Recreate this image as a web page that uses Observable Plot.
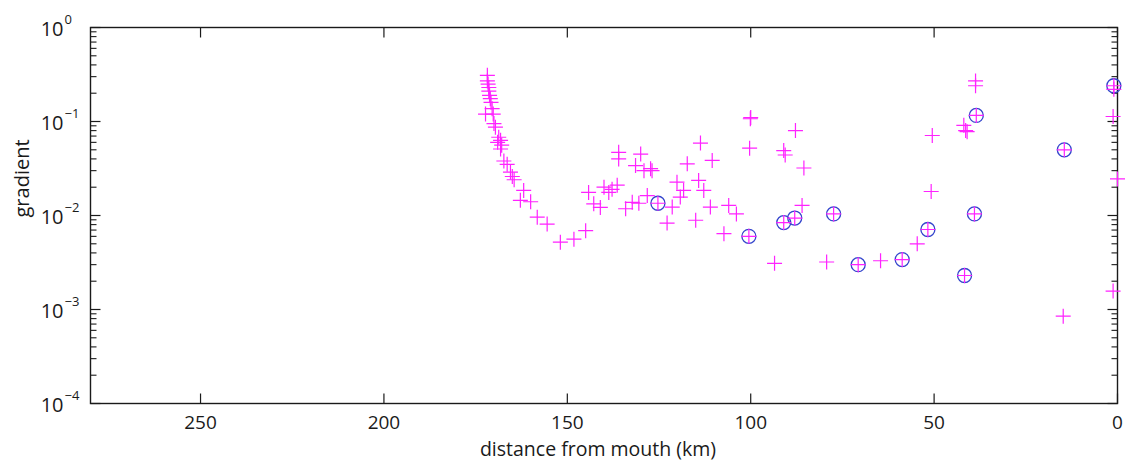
<!DOCTYPE html>
<html>
<head>
<meta charset="utf-8">
<script src="https://cdn.jsdelivr.net/npm/d3@7"></script>
<script src="https://cdn.jsdelivr.net/npm/@observablehq/plot@0.6"></script>
<style>
  html, body { margin: 0; padding: 0; background: #fff; }
  svg { display: block; }
</style>
</head>
<body>
<div id="chart"></div>
<script>
// ---- data (distance from mouth in km, gradient) ----
const crossKm = [
  171.8,171.8,171.6,171.4,171.4,171.2,171.0,170.8,170.5,172.3,170.2,170.0,169.6,168.7,168.2,169.0,167.9,168.2,
  167.3,166.4,165.5,165.0,164.5,161.9,162.8,160.0,158.2,155.5,151.9,148.2,145.0,
  144.2,142.8,141.0,140.0,138.7,137.8,136.4,136.0,136.0,131.4,130.0,134.1,132.3,130.5,129.1,127.3,126.9,128.2,
  122.8,121.4,120.1,119.2,118.3,117.3,115.0,114.2,113.7,112.8,111.0,110.5,107.3,106.0,103.9,
  100.1,100.0,100.3,93.5,91.0,90.6,87.8,86.0,85.5,79.3,64.6,54.6,50.8,50.5,
  41.9,41.4,41.0,38.7,38.7,14.8,1.2,0.0,1.2,1.0,
  125.3,100.5,91.0,88.0,77.4,70.7,58.7,51.7,41.7,38.5,39.0,14.5,1.0
];
const crossG = [
  0.31,0.27,0.25,0.23,0.21,0.19,0.175,0.16,0.137,0.12,0.12,0.095,0.087,0.068,0.063,0.060,0.056,0.051,
  0.038,0.035,0.029,0.026,0.024,0.0185,0.0145,0.014,0.0096,0.0081,0.0052,0.0056,0.0069,
  0.0176,0.0133,0.0122,0.020,0.0176,0.019,0.021,0.047,0.040,0.034,0.045,0.0118,0.0138,0.0135,0.030,0.0315,0.030,0.0163,
  0.0083,0.0123,0.0226,0.0157,0.0185,0.0355,0.0089,0.0236,0.059,0.0185,0.0123,0.0385,0.0064,0.0128,0.0104,
  0.107,0.110,0.052,0.0031,0.049,0.044,0.080,0.0128,0.032,0.0032,0.0033,0.0050,0.018,0.071,
  0.091,0.080,0.078,0.27,0.24,0.00085,0.113,0.0245,0.00157,0.22,
  0.0135,0.0060,0.0084,0.0094,0.0104,0.0030,0.0034,0.0071,0.0023,0.116,0.0104,0.050,0.24
];
const circleKm = [125.3,100.5,91.0,88.0,77.4,70.7,58.7,51.7,41.7,38.5,39.0,14.5,1.0];
const circleG  = [0.0135,0.0060,0.0084,0.0094,0.0104,0.0030,0.0034,0.0071,0.0023,0.116,0.0104,0.050,0.24];

// ---- axis ticks ----
const xTicks = [250, 200, 150, 100, 50, 0];
const xTickLabels = ["250", "200", "150", "100", "50", "0"];
const yTicks = [1, 0.1, 0.01, 0.001, 0.0001];
const yExponents = ["0", "\u22121", "\u22122", "\u22123", "\u22124"];
const xDomain = [280, 0];
const yDomain = [1e-4, 1];

const minorY = [];
for (let e = -4; e < 0; e++) for (let m = 2; m <= 9; m++) minorY.push(m * Math.pow(10, e));

const crosses = crossKm.map((k, i) => ({km: k, g: crossG[i]}));
const circles = circleKm.map((k, i) => ({km: k, g: circleG[i]}));

// ---- custom symbols ----
const plusSym = {draw(c) { c.moveTo(-7.5, 0); c.lineTo(7.5, 0); c.moveTo(0, -7.5); c.lineTo(0, 7.5); }};
const tickUp = (len) => ({draw(c) { c.moveTo(0, 0); c.lineTo(0, -len); }});
const tickDown = (len) => ({draw(c) { c.moveTo(0, 0); c.lineTo(0, len); }});
const tickRight = (len) => ({draw(c) { c.moveTo(0, 0); c.lineTo(len, 0); }});
const tickLeft = (len) => ({draw(c) { c.moveTo(0, 0); c.lineTo(-len, 0); }});

const font = "'Open Sans', 'DejaVu Sans', sans-serif";
const ink = "#1a1a1a";

const chart = Plot.plot({
  width: 1128,
  height: 466,
  marginLeft: 90,
  marginRight: 11,
  marginTop: 27,
  marginBottom: 63,
  style: {fontFamily: font, background: "#fff", overflow: "visible"},
  x: {type: "linear", domain: xDomain, axis: null},
  y: {type: "log", domain: yDomain, axis: null},
  marks: [
    // tick marks (inward, MATLAB style)
    Plot.dot(xTicks, {x: d => d, y: () => 1e-4, symbol: tickUp(10), stroke: ink, fill: "none", strokeWidth: 1.2}),
    Plot.dot(xTicks, {x: d => d, y: () => 1, symbol: tickDown(10), stroke: ink, fill: "none", strokeWidth: 1.2}),
    Plot.dot(yTicks, {x: () => 280, y: d => d, symbol: tickRight(10), stroke: ink, fill: "none", strokeWidth: 1.2}),
    Plot.dot(yTicks, {x: () => 0, y: d => d, symbol: tickLeft(10), stroke: ink, fill: "none", strokeWidth: 1.2}),
    Plot.dot(minorY, {x: () => 280, y: d => d, symbol: tickRight(6), stroke: ink, fill: "none", strokeWidth: 1.1}),
    Plot.dot(minorY, {x: () => 0, y: d => d, symbol: tickLeft(6), stroke: ink, fill: "none", strokeWidth: 1.1}),
    Plot.frame({stroke: ink, strokeWidth: 1.4}),
    // x tick labels
    Plot.text(xTicks, {x: d => d, y: () => 1e-4, text: (d, i) => xTickLabels[i], dy: 19, lineAnchor: "middle",
      fontSize: 19, fill: ink}),
    // y tick labels: base "10" and superscript exponent
    Plot.text(yTicks, {x: () => 280, y: d => d, text: () => "10", textAnchor: "end", dx: -27, dy: 2,
      lineAnchor: "middle", fontSize: 20, fill: ink}),
    Plot.text(yTicks, {x: () => 280, y: d => d, text: (d, i) => yExponents[i], textAnchor: "start", dx: -26, dy: -8,
      lineAnchor: "middle", fontSize: 13, fill: ink}),
    // axis titles
    Plot.text(["distance from mouth (km)"], {frameAnchor: "bottom", text: d => d, dy: 46, dx: -6,
      lineAnchor: "middle", fontSize: 19.5, fill: ink}),
    Plot.text(["gradient"], {frameAnchor: "left", text: d => d, rotate: -90, dx: -68, dy: 2,
      lineAnchor: "middle", fontSize: 20, fill: ink}),
    // data
    Plot.dot(circles, {x: "km", y: "g", r: 7, stroke: "#3344cc", fill: "none", strokeWidth: 1.3}),
    Plot.dot(crosses, {x: "km", y: "g", symbol: plusSym, stroke: "#ff22ff", fill: "none", strokeWidth: 1.2})
  ]
});
document.getElementById("chart").appendChild(chart);
</script>
</body>
</html>
